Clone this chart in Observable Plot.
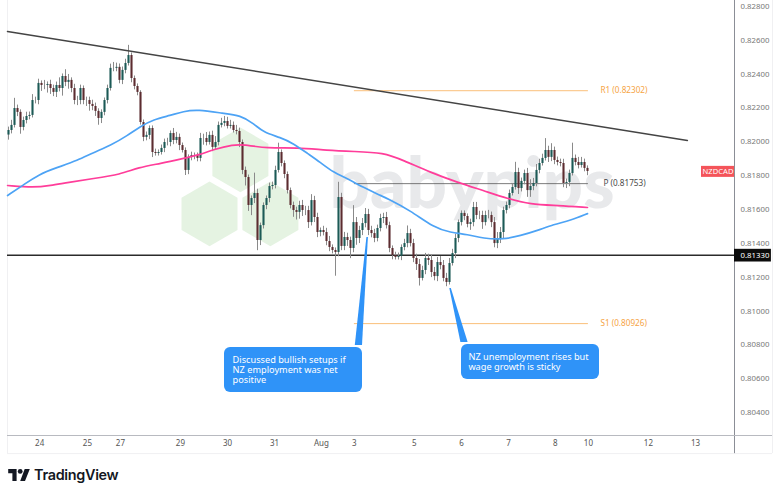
<!DOCTYPE html>
<html><head><meta charset="utf-8">
<script src="https://cdn.jsdelivr.net/npm/d3@7"></script>
<script src="https://cdn.jsdelivr.net/npm/@observablehq/plot@0.6"></script>
<style>
html,body{margin:0;padding:0;background:#fff}
#wrap{position:relative;width:780px;height:496px;overflow:hidden}
#logo{position:absolute;left:8px;top:466px;display:flex;align-items:center}
#logo span{font:600 14.4px Inter,sans-serif;color:#131722;margin-left:4px;letter-spacing:-.3px}
</style></head><body>
<div id="wrap"><div id="chart"></div>
<div id="logo"><svg width="22" height="12" viewBox="0 0 36 20"><path d="M14 20H7V7H0V0h14v20zM28 20h-8L27.5 0H36l-8 20z" fill="#131722"/><circle cx="20" cy="4" r="4" fill="#131722"/></svg><span>TradingView</span></div>
</div>
<script>
// closes, in 1e-5 price points, one per bar
const closePts=[82067,82097,82197,82174,82085,82126,82150,82156,82244,82244,
82345,82333,82333,82339,82315,82292,82333,82315,82386,82351,
82363,82315,82244,82244,82315,82244,82244,82221,82209,82180,
82138,82174,82244,82315,82434,82434,82440,82363,82422,82463,
82510,82374,82327,82292,82114,82026,82038,82079,81937,81931,
81937,81961,81996,81996,82049,82008,82026,81978,81949,81831,
81908,81919,81919,81902,82020,82020,81996,82038,81967,81996,
82097,82109,82120,82091,82097,82067,82061,81996,81831,81789,
81624,81665,81695,81417,81505,81624,81665,81736,81742,81831,
81937,81872,81807,81712,81624,81594,81583,81624,81594,81594,
81523,81653,81553,81464,81476,81464,81411,81376,81358,81346,
81671,81382,81435,81417,81370,81523,81429,81476,81517,81571,
81476,81458,81429,81488,81547,81553,81505,81370,81328,81317,
81323,81376,81399,81458,81399,81311,81275,81193,81240,81311,
81299,81228,81204,81287,81269,81193,81169,81281,81340,81429,
81523,81577,81559,81512,81523,81612,81565,81565,81523,81565,
81565,81523,81399,81429,81464,81594,81624,81695,81730,81819,
81724,81766,81813,81712,81736,81754,81831,81872,81902,81949,
81908,81949,81890,81878,81872,81754,81760,81813,81902,81878,
81860,81878,81843,81825];
const upperWick=[20,30,60,20,15,20,25,20,35,20,
25,15,30,15,25,20,20,45,15,40,
35,15,25,25,20,15,20,20,25,20,
15,15,15,20,25,35,25,20,20,25,
60,15,15,15,10,15,20,15,15,20,
15,20,20,25,15,30,30,20,15,15,
15,20,15,15,30,25,35,20,25,35,
20,30,30,25,30,20,30,20,15,20,
15,15,120,25,15,15,15,20,20,25,
55,15,15,15,15,20,20,25,30,25,
25,35,25,25,15,25,25,30,15,15,
90,25,30,25,20,100,30,25,30,35,
30,25,25,20,25,25,30,20,15,20,
20,15,25,45,25,25,25,30,25,30,
25,30,30,30,35,30,30,30,25,25,
15,15,15,15,20,30,30,25,25,25,
30,20,30,35,30,20,20,20,20,60,
25,20,20,30,40,30,35,25,25,70,
25,40,20,20,20,25,20,20,90,20,
30,30,20,15];
const lowerWick=[30,20,15,25,40,20,20,20,15,20,
25,35,25,45,35,25,30,20,45,25,
40,25,25,30,25,25,35,40,25,30,
40,30,20,20,15,20,20,20,25,20,
15,25,20,20,15,25,20,25,30,15,
15,15,25,20,25,25,20,30,15,30,
25,20,25,20,20,40,20,15,25,15,
20,15,20,15,15,15,20,30,25,50,
35,60,30,60,30,20,25,25,20,20,
15,20,25,20,20,40,45,40,35,30,
35,20,30,30,25,20,25,25,20,140,
25,25,25,35,60,25,40,30,30,25,
30,25,25,20,20,30,20,25,25,15,
15,25,20,25,20,25,35,45,15,25,
30,30,25,30,25,20,25,15,15,30,
25,20,25,20,35,25,25,25,40,20,
20,30,25,30,30,40,20,20,15,15,
35,20,20,40,40,25,20,20,15,15,
30,25,25,20,20,25,30,25,15,20,
20,15,20,25];
const firstOpenPts=82040;

const blueBars=[-0.3,4.7,10,16.3,23,28.3,34,39.7,44,48.3,54,58.3,63,71.7,77.3,81.7,85,90.7,95,99.7,104,108.3,113,118.3,124,126.3,134,141.7,147.3,153,158.3,165,170.7,176.3,181.7,187.3,193];
const bluePts=[81683,81742,81807,81849,81890,81937,81978,82038,82091,82132,82156,82180,82191,82168,82156,82109,82055,82026,81990,81931,81878,81819,81783,81730,81683,81665,81594,81494,81464,81453,81429,81423,81446,81476,81512,81535,81576];
const pinkBars=[-0.3,8.3,14,19.7,28.3,37.3,43.3,50.7,58.3,64,68.3,75,78.3,86.3,96.3,106.3,115,125,131.7,140.7,149.7,158.3,166.3,174,183,193];
const pinkPts=[81742,81730,81742,81760,81783,81807,81849,81872,81902,81925,81955,81984,81984,81961,81967,81949,81943,81937,81890,81819,81760,81712,81665,81630,81624,81612];

const trendBars=[-0.33,226.3];
const trendPts=[82652,82008];
const supportPrice=0.8133;
const pivotNames=["R1 (0.82302)","P (0.81753)","S1 (0.80926)"];
const pivotPrices=[0.82302,0.81753,0.80926];
const pivotColors=["#f6a444","#4a4a4a","#f6a444"];
const pivotLabelBars=[197.3,198.3,197.3];
const pivotStartBar=115.3, pivotEndBar=193.3;

const priceTicks=[0.828,0.826,0.824,0.822,0.82,0.818,0.816,0.814,0.812,0.81,0.808,0.806,0.804];
const dateBars=[10.4,26.3,37.3,57.3,73,88.7,104.3,115.3,135.3,151,166.7,182.3,193.3,213.3,229];
const dateLabels=["24","25","27","29","30","31","Aug","3","5","6","7","8","10","12","13"];

const calloutText=["Discussed bullish setups if\nNZ employment was net\npositive","NZ unemployment rises but\nwage growth is sticky"];
const boxBars1=[72,151], boxBars2=[118,197];
const boxTop=[80785,80802], boxBottom=[80519,80596];
const textBars=[74.7,153.3];
const textPts=[80655,80699];
const tipBars=[119.67,147.3], tipPts=[81435,81133];
const baseLeft=[115.6,150.8], baseRight=[118,153.2];

const hexBars=[77.3,67,87.3];
const hexPts=[81893,81574,81574];

const P=v=>v/1e5;
const bars=closePts.map((c,i)=>{
  const open=i?closePts[i-1]:firstOpenPts;
  return {i,open:P(open),close:P(c),high:P(Math.max(open,c)+upperWick[i]),low:P(Math.min(open,c)-lowerWick[i])};
});
const series=(xs,ys)=>xs.map((x,k)=>({x,y:P(ys[k])}));
const F="'Noto Sans',sans-serif";
const blue="#2f93f8";
const boxes=calloutText.map((t,k)=>({t,x1:boxBars1[k],x2:boxBars2[k],y1:P(boxTop[k]),y2:P(boxBottom[k]),tx:textBars[k],ty:P(textPts[k])}));
const pointer=k=>[{y:P(tipPts[k]),a:tipBars[k]-0.2,b:tipBars[k]+0.3},{y:P(boxTop[k]+12),a:baseLeft[k],b:baseRight[k]}];
const pivots=pivotNames.map((n,k)=>({n,p:pivotPrices[k],c:pivotColors[k],lx:pivotLabelBars[k]}));

const plot=Plot.plot({
  width:780,height:496,
  marginLeft:7,marginRight:46,marginTop:0,marginBottom:61,
  style:{background:"#fff",fontFamily:F},
  x:{domain:[-1/3,242],axis:null},
  y:{domain:[0.80265,0.82835],axis:null},
  marks:[
    // panel frame
    Plot.ruleX([-1/3,254.67],{y1:0.80158,y2:0.82835,stroke:"#f0f0f2",strokeWidth:1}),
    Plot.ruleY([0.80158],{x1:-1/3,x2:254.67,stroke:"#f0f0f2",strokeWidth:1}),
    // watermark
    Plot.dot(hexBars.map((x,k)=>({x,y:P(hexPts[k])})),{x:"x",y:"y",r:28,symbol:"hexagon",fill:"#e5f3e2"}),
    Plot.text(["babypips"],{x:107,y:P(81610),text:d=>d,textAnchor:"start",lineAnchor:"bottom",fontSize:71,fontWeight:900,fontFamily:"Lato,sans-serif",fill:"#e8e9eb"}),
    // levels
    Plot.ruleY(pivots,{y:"p",x1:pivotStartBar,x2:pivotEndBar,stroke:"c",strokeWidth:0.9,strokeOpacity:0.8}),
    Plot.ruleY([supportPrice],{x1:-1/3,x2:242,stroke:"#2b2b2b",strokeWidth:1.5}),
    // candles
    Plot.ruleX(bars,{x:"i",y1:"low",y2:"high",stroke:"#8a8a8a",strokeWidth:1}),
    Plot.ruleX(bars.filter(d=>d.close>=d.open),{x:"i",y1:"open",y2:"close",stroke:"#1c5a56",strokeWidth:2.1}),
    Plot.ruleX(bars.filter(d=>d.close<d.open),{x:"i",y1:"open",y2:"close",stroke:"#5c2c30",strokeWidth:2.1}),
    // averages and trend
    Plot.line(series(pinkBars,pinkPts),{x:"x",y:"y",stroke:"#ff3d9a",strokeWidth:1.7,curve:"basis"}),
    Plot.line(series(blueBars,bluePts),{x:"x",y:"y",stroke:"#4da3f5",strokeWidth:1.7,curve:"basis"}),
    Plot.line(series(trendBars,trendPts),{x:"x",y:"y",stroke:"#444",strokeWidth:1.5}),
    // callouts
    Plot.areaX(pointer(0),{y:"y",x1:"a",x2:"b",fill:blue}),
    Plot.areaX(pointer(1),{y:"y",x1:"a",x2:"b",fill:blue}),
    Plot.rect(boxes,{x1:"x1",x2:"x2",y1:"y1",y2:"y2",fill:blue,rx:6}),
    Plot.text(boxes,{x:"tx",y:"ty",text:"t",textAnchor:"start",fill:"#fff",fontSize:9.2,lineHeight:1.08,fontFamily:F}),
    // pivot labels
    Plot.text(pivots,{x:"lx",y:"p",text:"n",fill:"c",textAnchor:"start",fontSize:8.2,fontFamily:F}),
    // axes
    Plot.ruleX([242],{y1:0.80158,y2:0.82835,stroke:"#8b8e96",strokeWidth:1}),
    Plot.ruleY([0.80265],{x1:-1/3,x2:254.67,stroke:"#b8bac0",strokeWidth:1.2}),
    Plot.axisX({ticks:dateBars,tickFormat:(d,i)=>dateLabels[i],anchor:"bottom",tickSize:0,tickPadding:5,fontSize:8,fill:"#555"}),
    Plot.axisY({ticks:priceTicks,tickFormat:d3.format(".5f"),anchor:"right",tickSize:0,tickPadding:6,textAnchor:"start",fontSize:7.8,fill:"#777"}),
    // tags
    Plot.rect([supportPrice],{x1:242,x2:254.3,y1:P(81365),y2:P(81290),fill:"#0b0b0b"}),
    Plot.text([supportPrice],{x:244,y:d=>d,text:d=>d3.format(".5f")(d),textAnchor:"start",fill:"#fff",fontSize:7.8,fontFamily:F}),
    Plot.rect(["NZDCAD"],{x1:231,x2:242,y1:P(81855),y2:P(81790),fill:"#f4545a"}),
    Plot.text(["NZDCAD"],{x:236.5,y:P(81822),text:d=>d,fill:"#fff",fontSize:7.6,fontFamily:F})
  ]
});
document.getElementById("chart").appendChild(plot);
</script>
</body></html>
